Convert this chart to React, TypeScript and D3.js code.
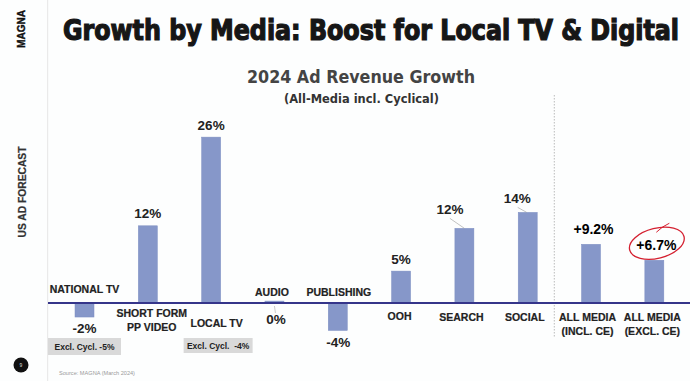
import React from "react";
import * as d3 from "d3";

const categories = [
  "NATIONAL TV",
  "SHORT FORM\nPP VIDEO",
  "LOCAL TV",
  "AUDIO",
  "PUBLISHING",
  "OOH",
  "SEARCH",
  "SOCIAL",
  "ALL MEDIA\n(INCL. CE)",
  "ALL MEDIA\n(EXCL. CE)",
];
const values = [-2.2, 12.1, 26, 0.3, -4.3, 5, 11.7, 14.2, 9.2, 6.7];
const valueLabels = ["-2%", "12%", "26%", "0%", "-4%", "5%", "12%", "14%", "+9.2%", "+6.7%"];
const exclCyclNotes = ["Excl. Cycl. -5%", "", "Excl. Cycl.  -4%", "", "", "", "", "", "", ""];

const title = "Growth by Media: Boost for Local TV & Digital";
const subtitle = "2024 Ad Revenue Growth";
const subtitle2 = "(All-Media incl. Cyclical)";
const sideLabel = "US AD FORECAST";
const source = "Source: MAGNA (March 2024)";

// layout (not data)
const W = 690, H = 381;
const BASE = 303;
const catLayout: [number, number][] = [
  [0, 292.7], [4, 317], [5.5, 327], [-2.5, 296], [1, 296],
  [-1.5, 320], [-3, 321], [-3, 321], [-3.5, 321], [-2, 321],
];
const valLayout: [number, number][] = [
  [0, 16], [0, 8], [0, 7], [1.5, 21], [0.5, 17],
  [0, 7], [-14.5, 14], [-10.5, 9.5], [2.5, 10.5], [2, 10.7],
];
const noteBoxes: [number, number, number][] = [
  [0, 73, 17], [0, 0, 0], [7, 69, 15],
];

export default function App() {
  const x = d3.scaleBand<number>()
    .domain(d3.range(categories.length))
    .range([52.85, 686])
    .paddingInner(0.7)
    .paddingOuter(0.35);
  const y = d3.scaleLinear().domain([-5, 28]).range([BASE + 5 * 6.38, BASE - 28 * 6.38]);
  const bw = 19;
  const cx = (i: number) => (x(i) as number) + x.bandwidth() / 2;

  const sans = "'Liberation Sans', Arial, sans-serif";
  const narrow = "'Liberation Sans Narrow', 'DejaVu Sans Condensed', sans-serif";

  return (
    <svg width={W} height={H} style={{ position: "absolute", left: 0, top: 0, background: "#fdfefe" }}>
      <rect x={0} y={0} width={W} height={H} fill="#fdfefe" />
      <line x1={47.7} x2={47.7} y1={0} y2={H} stroke="#e6e6e6" strokeWidth={1} />
      <text transform="translate(25,29) rotate(-90)" textAnchor="middle" fontFamily={sans} fontWeight="bold" fontSize={11} fill="#111" stroke="#111" strokeWidth={0.4} textLength={38} lengthAdjust="spacingAndGlyphs">MAGNA</text>
      <text transform="translate(26,192) rotate(-90)" textAnchor="middle" fontFamily={sans} fontWeight="bold" fontSize={11} fill="#333" stroke="#333" strokeWidth={0.2} textLength={91} lengthAdjust="spacingAndGlyphs">{sideLabel}</text>
      <circle cx={21} cy={365} r={7.5} fill="#111" />
      <text x={21} y={367} textAnchor="middle" fontFamily={sans} fontSize={5} fill="#ddd">9</text>
      <text x={59} y={375} fontFamily={sans} fontSize={5.5} fill="#9a9a9a" textLength={76} lengthAdjust="spacingAndGlyphs">{source}</text>

      <text transform="translate(63,40) scale(1,1.1)" x={0} y={0} fontFamily={narrow} fontWeight="bold" fontSize={25.5} fill="#161616" stroke="#161616" strokeWidth={1.1} textLength={616} lengthAdjust="spacingAndGlyphs">{title}</text>
      <text x={361} y={83} textAnchor="middle" fontFamily={narrow} fontWeight="bold" fontSize={17} fill="#444" textLength={228} lengthAdjust="spacingAndGlyphs">{subtitle}</text>
      <text x={361.5} y={103} textAnchor="middle" fontFamily={narrow} fontWeight="bold" fontSize={11.5} fill="#333" textLength={155} lengthAdjust="spacingAndGlyphs">{subtitle2}</text>

      <line x1={554.3} x2={554.3} y1={95} y2={338} stroke="#aaa" strokeWidth={0.8} strokeDasharray="1.5,1.5" />

      {values.map((v, i) => (
        <rect key={"b" + i} x={cx(i) - bw / 2} y={Math.min(y(v), y(0))} width={bw} height={Math.max(Math.abs(y(v) - y(0)), 1.5)} fill="#8697c9" stroke="#7d8ec2" strokeWidth={0.5} />
      ))}
      <line x1={48} x2={W} y1={y(0)} y2={y(0)} stroke="#35358a" strokeWidth={2} />

      {categories.map((c, i) => {
        const [dx, yy] = catLayout[i];
        return (
          <text key={"c" + i} x={cx(i) + dx} y={yy} textAnchor="middle" fontFamily={sans} fontWeight="bold" fontSize={10.5} fill="#222" stroke="#222" strokeWidth={0.2}>
            {c.split("\n").map((ln, k) => (
              <tspan key={k} x={cx(i) + dx} dy={k === 0 ? 0 : 14}>{ln}</tspan>
            ))}
          </text>
        );
      })}

      {values.map((v, i) => {
        const [dx, gap] = valLayout[i];
        const end = y(v);
        const yy = v >= 1 ? end - gap : (i === 3 ? y(0) + gap : end + gap);
        return (
          <text key={"v" + i} x={cx(i) + dx} y={yy} textAnchor="middle" fontFamily={sans} fontWeight="bold" fontSize={i >= 8 ? 14 : 13.5} fill={i >= 8 ? "#000" : "#222"}>{valueLabels[i]}</text>
        );
      })}
      <line x1={cx(3) + 1} y1={y(0) + 10} x2={cx(3)} y2={y(0) + 3} stroke="#aaa" strokeWidth={0.6} />
      <line x1={cx(6) - 14.5} y1={y(values[6]) - 10} x2={cx(6)} y2={y(values[6])} stroke="#999" strokeWidth={0.6} />
      <line x1={cx(7) - 10} y1={y(values[7]) - 5} x2={cx(7) - 1} y2={y(values[7])} stroke="#999" strokeWidth={0.6} />

      {exclCyclNotes.map((n, i) => {
        if (!n) return null;
        const [dx, w, h] = noteBoxes[i];
        return (
          <g key={"n" + i}>
            <rect x={cx(i) + dx - w / 2} y={338} width={w} height={h} fill="#d9d9d9" />
            <text x={cx(i) + dx} y={338 + h / 2 + 3} textAnchor="middle" fontFamily={sans} fontWeight="bold" fontSize={8.5} fill="#222" style={{ whiteSpace: "pre" }}>{n}</text>
          </g>
        );
      })}

      <g transform={`translate(${cx(9) + 2.5},${y(values[9]) - 17}) rotate(-14)`}>
        <ellipse cx={0} cy={0} rx={28} ry={15} fill="none" stroke="#d42030" strokeWidth={1.3} />
      </g>
      <path d={`M${cx(9) + 2},${y(values[9]) - 28} Q${cx(9) + 8},${y(values[9]) - 34} ${cx(9) + 15},${y(values[9]) - 37}`} fill="none" stroke="#d42030" strokeWidth={1} />
    </svg>
  );
}
